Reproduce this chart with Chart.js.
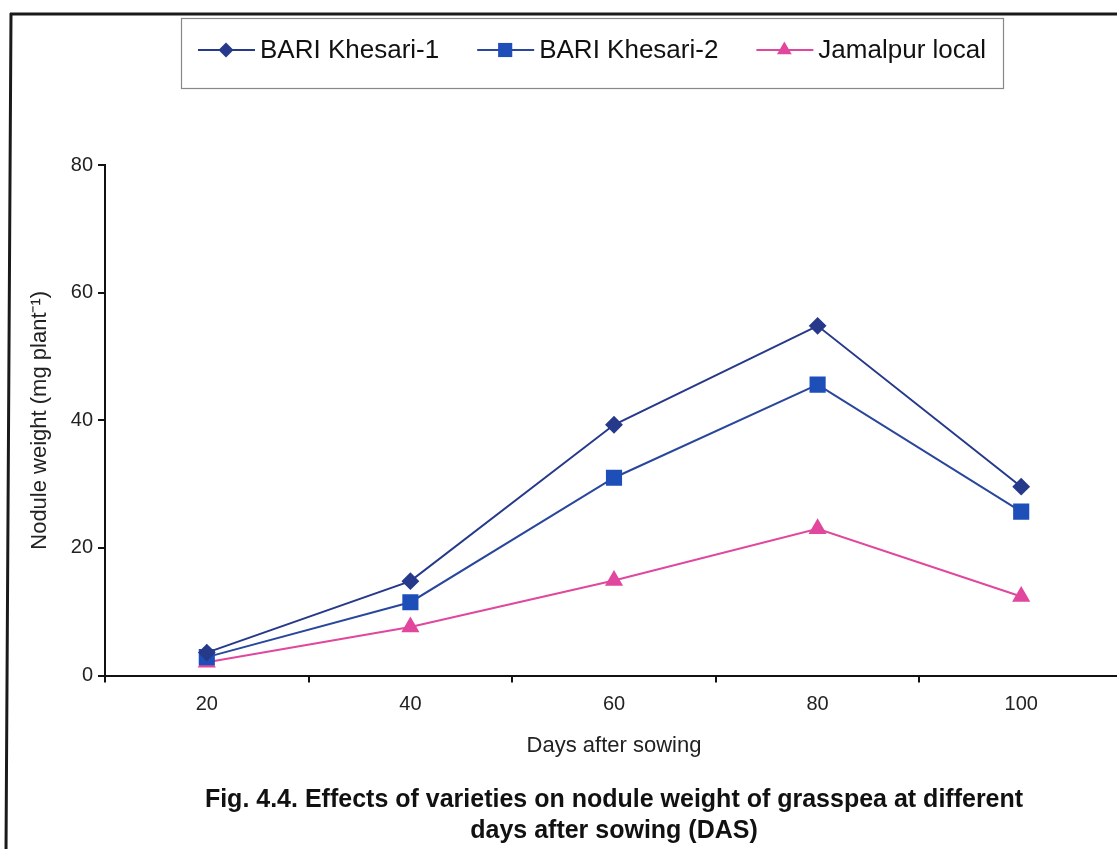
<!DOCTYPE html>
<html><head><meta charset="utf-8">
<script src="https://cdn.jsdelivr.net/npm/chart.js@4.4.1/dist/chart.umd.min.js"></script>
<style>
html,body{margin:0;padding:0;background:#fff;overflow:hidden;width:1117px;height:849px;}
#wrap{position:relative;width:1135px;height:849px;}
canvas{display:block;}
</style></head><body><div id="wrap"><canvas id="c" width="1135" height="849"></canvas></div>
<script>
const categories = ['20', '40', '60', '80', '100'];
const khesari1 = [3.6, 14.8, 39.3, 54.8, 29.6];
const khesari2 = [2.9, 11.5, 31.0, 45.6, 25.7];
const jamalpur = [2.1, 7.6, 14.9, 23.0, 12.4];
const seriesNames = ['BARI Khesari-1', 'BARI Khesari-2', 'Jamalpur local'];
const yTicks = [0, 20, 40, 60, 80];
const xTitle = 'Days after sowing';
const yTitle = 'Nodule weight (mg plant\u207B\u00B9)';
const caption = ['Fig. 4.4. Effects of varieties on nodule weight of grasspea at different', 'days after sowing (DAS)'];

const FONT = "'Liberation Sans', Arial, Helvetica, sans-serif";
const AX = '#111';

const frame = {
  id: 'frame',
  beforeDraw(chart) {
    const ctx = chart.ctx;
    ctx.save();
    ctx.fillStyle = '#fff';
    ctx.fillRect(0, 0, chart.width, chart.height);
    ctx.strokeStyle = '#1a1a1a';
    ctx.lineWidth = 3;
    ctx.beginPath();
    ctx.moveTo(10, 14); ctx.lineTo(1135, 14);
    ctx.moveTo(11, 13); ctx.lineTo(6, 849);
    ctx.stroke();
    ctx.restore();
  }
};

function drawMarker(ctx, style, x, y, r, color) {
  ctx.beginPath();
  if (style === 'rectRot') {
    ctx.moveTo(x, y - r); ctx.lineTo(x + r, y); ctx.lineTo(x, y + r); ctx.lineTo(x - r, y);
  } else if (style === 'rect') {
    const s = r * Math.SQRT1_2;
    ctx.rect(x - s, y - s, 2 * s, 2 * s);
  } else {
    ctx.moveTo(x, y - r);
    ctx.lineTo(x + r * Math.cos(Math.PI / 6), y + r / 2);
    ctx.lineTo(x - r * Math.cos(Math.PI / 6), y + r / 2);
  }
  ctx.closePath();
  ctx.fillStyle = color;
  ctx.fill();
}

const boxLegend = {
  id: 'boxLegend',
  afterDraw(chart) {
    const ctx = chart.ctx;
    ctx.save();
    ctx.strokeStyle = '#888';
    ctx.lineWidth = 1.2;
    ctx.strokeRect(181.5, 18.5, 822, 70);
    ctx.font = '26px ' + FONT;
    ctx.textBaseline = 'middle';
    let x = 198;
    const cy = 50;
    chart.data.datasets.forEach(ds => {
      ctx.strokeStyle = ds.borderColor;
      ctx.lineWidth = 2;
      ctx.beginPath(); ctx.moveTo(x, cy); ctx.lineTo(x + 57, cy); ctx.stroke();
      drawMarker(ctx, ds.pointStyle, x + 28, cy, ds.pointRadius, ds.pointBackgroundColor);
      x += 62;
      ctx.fillStyle = '#111';
      ctx.fillText(ds.label, x, cy + 1);
      x += ctx.measureText(ds.label).width + 38;
    });
    ctx.restore();
  }
};

new Chart(document.getElementById('c'), {
  type: 'line',
  data: {
    labels: categories,
    datasets: [
      { label: seriesNames[0], data: khesari1, borderColor: '#26398A', backgroundColor: '#26398A',
        pointBackgroundColor: '#26398A', pointBorderColor: '#26398A', pointStyle: 'rectRot', pointRadius: 7.5, borderWidth: 2 },
      { label: seriesNames[1], data: khesari2, borderColor: '#2A479E', backgroundColor: '#1E4FB8',
        pointBackgroundColor: '#1E4FB8', pointBorderColor: '#1E4FB8', pointStyle: 'rect', pointRadius: 10, borderWidth: 2 },
      { label: seriesNames[2], data: jamalpur, borderColor: '#E0479D', backgroundColor: '#E0479D',
        pointBackgroundColor: '#E0479D', pointBorderColor: '#E0479D', pointStyle: 'triangle', pointRadius: 8.5, borderWidth: 2 }
    ]
  },
  options: {
    responsive: false,
    animation: false,
    devicePixelRatio: 1,
    layout: { padding: { left: 10, right: 7, top: 165, bottom: 0 } },
    elements: { line: { tension: 0 }, point: { borderWidth: 1 } },
    plugins: {
      legend: { display: false },
      tooltip: { enabled: false },
      title: {
        display: true, position: 'bottom', fullSize: false, text: caption, color: '#111',
        font: { family: FONT, size: 25, weight: 'bold', lineHeight: 1.24 },
        padding: { top: 26, bottom: 2 }
      }
    },
    scales: {
      x: {
        type: 'category', offset: true,
        border: { display: true, color: AX, width: 2 },
        grid: { offset: true, drawOnChartArea: false, drawTicks: true, tickLength: 7, color: AX, lineWidth: 2 },
        ticks: { color: '#222', font: { family: FONT, size: 20 }, padding: 10, maxRotation: 0 },
        title: { display: true, text: xTitle, color: '#222', font: { family: FONT, size: 22 }, padding: { top: 6, bottom: 0 } }
      },
      y: {
        min: 0, max: 80,
        afterBuildTicks: s => { s.ticks = yTicks.map(v => ({ value: v })); },
        afterFit: s => { s.width = 95; },
        border: { display: true, color: AX, width: 2 },
        grid: { drawOnChartArea: false, drawTicks: true, tickLength: 7, color: AX, lineWidth: 2 },
        ticks: { color: '#222', font: { family: FONT, size: 20 }, padding: 5 },
        title: { display: true, text: yTitle, color: '#222', font: { family: FONT, size: 22 }, padding: { top: 17, bottom: 0 } }
      }
    }
  },
  plugins: [frame, boxLegend]
});
</script></body></html>
